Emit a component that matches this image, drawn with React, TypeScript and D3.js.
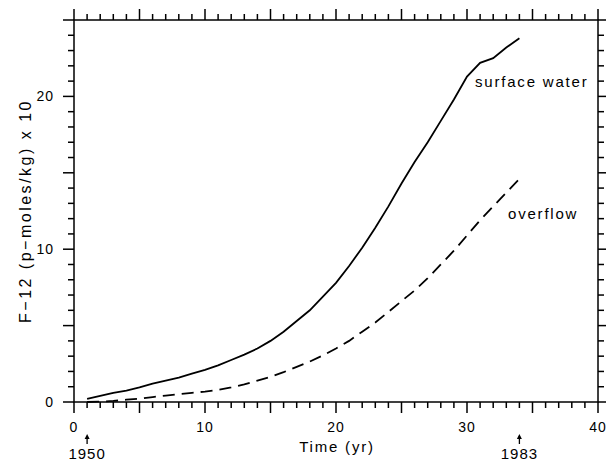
import React from 'react';
import { scaleLinear, line, range } from 'd3';

// time since 1950 (yr) and F-12 concentration x 10
const years = [1, 2, 3, 4, 5, 6, 7, 8, 9, 10, 11, 12, 13, 14, 15, 16, 17, 18, 19, 20, 21, 22, 23, 24, 25, 26, 27, 28, 29, 30, 31, 32, 33, 34];
const surfaceWater = [0.2, 0.4, 0.6, 0.75, 0.95, 1.2, 1.4, 1.6, 1.85, 2.1, 2.4, 2.75, 3.1, 3.5, 4.0, 4.6, 5.3, 6.0, 6.9, 7.8, 8.9, 10.1, 11.4, 12.8, 14.3, 15.7, 17.0, 18.4, 19.8, 21.3, 22.2, 22.5, 23.2, 23.8];
const overflow = [0, 0.02, 0.07, 0.15, 0.22, 0.32, 0.42, 0.52, 0.6, 0.68, 0.8, 0.95, 1.15, 1.4, 1.65, 1.95, 2.3, 2.65, 3.05, 3.5, 4.0, 4.6, 5.2, 5.9, 6.6, 7.3, 8.1, 9.0, 9.9, 10.9, 11.9, 12.8, 13.7, 14.6];
const xLabels = [0, 10, 20, 30, 40];
const yLabels = [0, 10, 20];
const yearMarks = [{ t: 1, label: '1950' }, { t: 34, label: '1983' }];

const W = 606, H = 463;
const left = 74, right = 598, top = 20, bottom = 402;
const font = '"Liberation Sans", Arial, sans-serif';

export default function App() {
  const x = scaleLinear().domain([0, 40]).range([left, right]);
  const y = scaleLinear().domain([0, 25]).range([bottom, top]);

  const mk = (vals: number[]) =>
    line<number>().x((d, i) => x(years[i])).y((d) => y(d))(vals) || '';

  const xt = range(0, 41, 1);
  const yt = range(0, 26, 1);
  const len = (v: number) => (v % 5 === 0 ? 11 : 6);

  return (
    <svg width={W} height={H} style={{ position: 'absolute', left: 0, top: 0, background: '#fff' }}>
      <g stroke="#000" strokeWidth={1.5} fill="none">
        <rect x={left} y={top} width={right - left} height={bottom - top} />
        {xt.map((t) => (
          <g key={'x' + t}>
            <line x1={x(t)} x2={x(t)} y1={bottom} y2={bottom + len(t)} />
            <line x1={x(t)} x2={x(t)} y1={top} y2={top - len(t)} />
          </g>
        ))}
        {yt.map((v) => (
          <g key={'y' + v}>
            <line x1={left} x2={left - len(v)} y1={y(v)} y2={y(v)} />
            <line x1={right} x2={right + len(v)} y1={y(v)} y2={y(v)} />
          </g>
        ))}
      </g>

      <path d={mk(surfaceWater)} fill="none" stroke="#000" strokeWidth={1.8} />
      <path d={mk(overflow)} fill="none" stroke="#000" strokeWidth={1.8} strokeDasharray="12,7" />

      <g fontFamily={font} fontSize={14} letterSpacing={1} fill="#000">
        {xLabels.map((t) => (
          <text key={t} x={x(t)} y={432} textAnchor="middle">{t}</text>
        ))}
        {yLabels.map((v) => (
          <text key={v} x={54} y={y(v) + 5} textAnchor="end">{v}</text>
        ))}
      </g>

      <g fontFamily={font} fontSize={15} letterSpacing={1.8} fill="#000">
        <text x={337} y={452} textAnchor="middle">Time (yr)</text>
        <text x={475} y={87}>surface water</text>
        <text x={508} y={219}>overflow</text>
        <text transform={`translate(31,211) rotate(-90)`} textAnchor="middle" fontSize={16} letterSpacing={2.5}>
          F−12 (p−moles/kg) x 10
        </text>
      </g>

      {yearMarks.map((m) => (
        <g key={m.label}>
          <line x1={x(m.t)} x2={x(m.t)} y1={436} y2={444} stroke="#000" strokeWidth={1.3} />
          <path d={`M${x(m.t) - 2.5},${439} L${x(m.t)},${434} L${x(m.t) + 2.5},${439} Z`} fill="#000" />
          <text x={x(m.t)} y={459} textAnchor="middle" fontFamily={font} fontSize={15} letterSpacing={1}>{m.label}</text>
        </g>
      ))}
    </svg>
  );
}
